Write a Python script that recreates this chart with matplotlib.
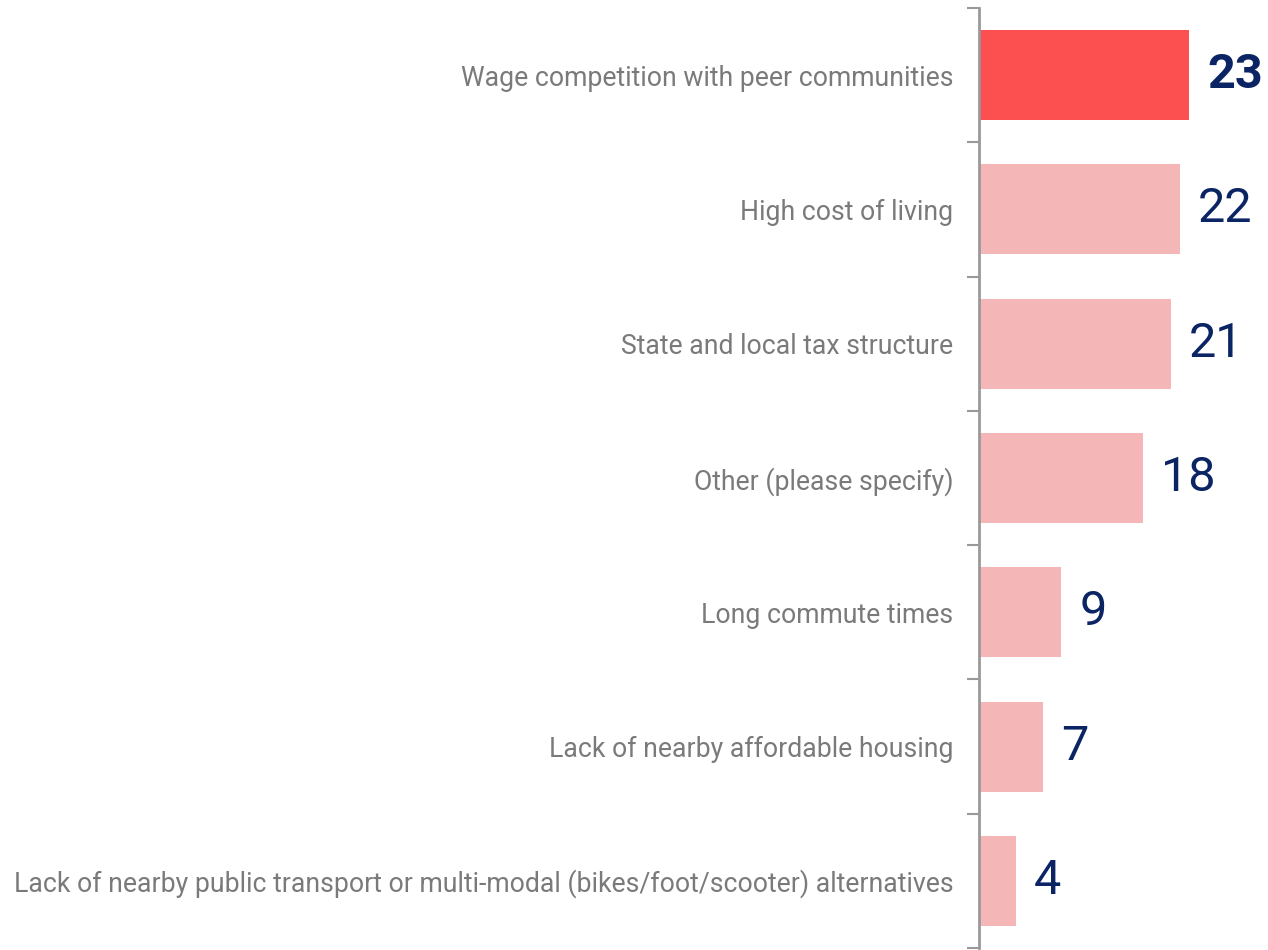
import matplotlib
matplotlib.use("Agg")
import matplotlib.pyplot as plt

categories = [
    "Wage competition with peer communities",
    "High cost of living",
    "State and local tax structure",
    "Other (please specify)",
    "Long commute times",
    "Lack of nearby affordable housing",
    "Lack of nearby public transport or multi-modal (bikes/foot/scooter) alternatives",
]
values = [23, 22, 21, 18, 9, 7, 4]
highlight = [True, False, False, False, False, False, False]

HI_COLOR = "#FC5050"
LO_COLOR = "#F4B6B6"
LABEL_COLOR = "#0B2463"
TICK_COLOR = "#7A7A7A"
SPINE_COLOR = "#999999"

plt.rcParams["font.family"] = ["Roboto", "DejaVu Sans"]

fig = plt.figure(figsize=(12.68, 9.5), dpi=100)
ax = fig.add_axes([979 / 1268, 2 / 950, 1 - 979 / 1268, 940 / 950])

ypos = list(range(len(categories)))
colors = [HI_COLOR if h else LO_COLOR for h in highlight]
bars = ax.barh(ypos, values, height=0.67, color=colors, zorder=2)

ax.set_xlim(0, 31.65)
ax.set_ylim(len(categories) - 0.5, -0.5)

ax.set_yticks(ypos)
ax.set_yticklabels(categories, fontsize=19.2, color=TICK_COLOR)
ax.tick_params(axis="y", which="major", length=0, pad=18.5)
ax.set_yticks([i - 0.5 for i in range(len(categories) + 1)], minor=True)
ax.tick_params(axis="y", which="minor", length=9, width=1.5, color=SPINE_COLOR)
ax.set_xticks([])

for s in ["top", "right", "bottom"]:
    ax.spines[s].set_visible(False)
ax.spines["left"].set_color(SPINE_COLOR)
ax.spines["left"].set_linewidth(2)

for b, v, h in zip(bars, values, highlight):
    ax.annotate(str(v), xy=(b.get_width(), b.get_y() + b.get_height() / 2),
                xytext=(13, 0), textcoords="offset points",
                ha="left", va="center", fontsize=35, color=LABEL_COLOR,
                fontweight="bold" if h else "normal", annotation_clip=False)

fig.savefig("out.png", dpi=100)
